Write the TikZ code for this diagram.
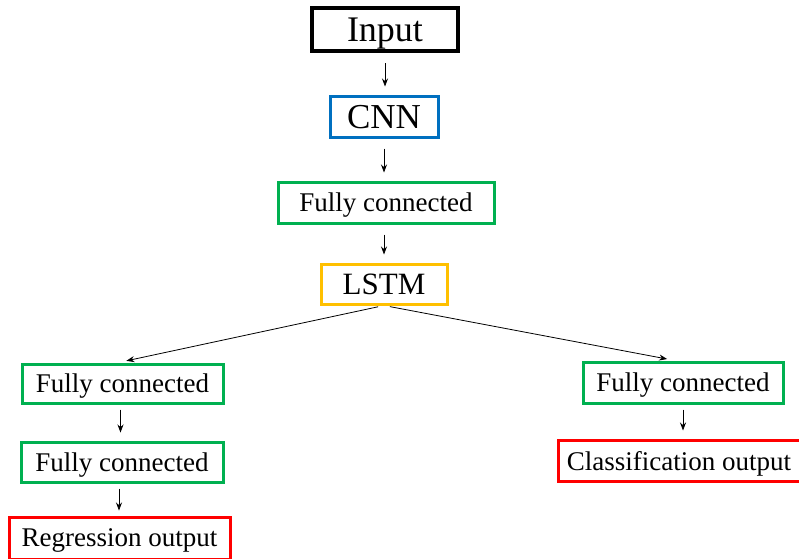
\documentclass[tikz,border=0pt]{standalone}
\usepackage{fontspec}
\setmainfont{Liberation Serif}
\usetikzlibrary{arrows.meta}
\definecolor{cblue}{RGB}{0,112,192}
\definecolor{cgreen}{RGB}{0,176,80}
\definecolor{cgold}{RGB}{255,192,0}
\definecolor{cred}{RGB}{255,0,0}
\begin{document}
\begin{tikzpicture}[x=1pt,y=-1pt,
  blk/.style={draw,line width=3pt,inner sep=0pt,text depth=0pt,align=center,font=\fontsize{27}{30}\selectfont},
  conn/.style={-{Stealth[length=8pt,width=6pt]},line width=0.8pt,shorten <=10pt,shorten >=8pt}]
\useasboundingbox (0,0) rectangle (799,558);
\node[blk,line width=4pt,minimum width=146pt,minimum height=43pt,font=\fontsize{36}{40}\selectfont] (inp) at (385,29.5) {Input};
\node[blk,draw=cblue,minimum width=108pt,minimum height=41pt,font=\fontsize{35}{38}\selectfont] (cnn) at (384,116.5) {CNN};
\node[blk,draw=cgreen,minimum width=216pt,minimum height=41pt] (fc) at (386,202.5) {Fully connected};
\node[blk,draw=cgold,minimum width=126pt,minimum height=40pt,font=\fontsize{31}{34}\selectfont] (lstm) at (384,284) {LSTM};
\node[blk,draw=cgreen,minimum width=201pt,minimum height=39pt] (lfa) at (122.5,383.5) {Fully connected};
\node[blk,draw=cgreen,minimum width=202pt,minimum height=40pt] (lfb) at (122,462) {Fully connected};
\node[blk,draw=cred,minimum width=221pt,minimum height=42pt] (reg) at (119.5,538) {Regression output};
\node[blk,draw=cgreen,minimum width=200pt,minimum height=41pt] (rfa) at (683,382.5) {Fully connected};
\node[blk,draw=cred,minimum width=242pt,minimum height=41pt] (cls) at (679,460.5) {Classification output};
\draw[conn] (inp.south) -- (inp.south |- cnn.north);
\draw[conn] (cnn.south) -- (cnn.south |- fc.north);
\draw[conn] (fc.south -| lstm.north) -- (lstm.north);
\draw[conn,shorten <=6pt] (lstm.south) -- ([xshift=-4pt]lfa.north);
\draw[conn,shorten <=6pt] (lstm.south) -- ([xshift=-8pt]rfa.north);
\draw[conn,shorten <=5pt] ([xshift=-2pt]lfa.south) -- ([xshift=-2pt]lfa.south |- lfb.north);
\draw[conn,shorten <=5pt,shorten >=5pt] ([xshift=-3pt]lfb.south) -- ([xshift=-3pt]lfb.south |- reg.north);
\draw[conn,shorten <=5pt] (rfa.south) -- (rfa.south |- cls.north);
\end{tikzpicture}
\end{document}
